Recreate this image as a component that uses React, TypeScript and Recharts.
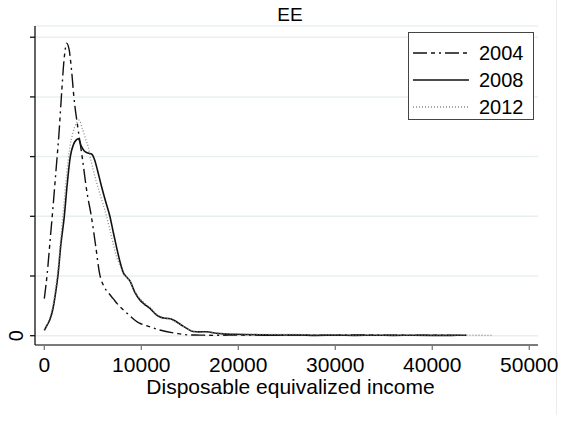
import React from 'react';
import { LineChart, Line, XAxis, YAxis, CartesianGrid } from 'recharts';

// Kernel density estimates of disposable equivalized income (density x 1e-5)
const income2004 = [0, 300, 600, 900, 1200, 1500, 1800, 2000, 2200, 2300, 2550, 2800, 3050, 3500, 3900, 4400, 4850, 5300, 5700, 6100, 6600, 7100, 7600, 8500, 9800, 10500, 11900, 13600, 15000, 16000, 17500, 19000, 21000, 23000, 25000, 27000, 30000, 33000, 36000, 39000, 42000, 43500];
const density2004 = [3.1, 5.2, 8.0, 10.8, 13.8, 16.8, 20.5, 22.8, 24.2, 24.5, 24.0, 22.3, 20.0, 17.2, 15.0, 12.0, 10.0, 7.5, 5.2, 4.2, 3.6, 3.1, 2.6, 1.9, 1.05, 0.85, 0.48, 0.2, 0.06, 0.05, 0.03, 0.05, 0.06, 0.04, 0.06, 0.04, 0.05, 0.06, 0.04, 0.05, 0.03, 0.03];

const income2008 = [0, 300, 600, 900, 1200, 1400, 1700, 2060, 2350, 2680, 3000, 3300, 3520, 3800, 4100, 4500, 4900, 5200, 5500, 5900, 6300, 6760, 7100, 7450, 7800, 8130, 8500, 8820, 9300, 9850, 10300, 10870, 11560, 12000, 12600, 13000, 13450, 14300, 14800, 15330, 16000, 16700, 17700, 18500, 19500, 20500, 22000, 24000, 26000, 28000, 30000, 32000, 34000, 36000, 38000, 40000, 42000, 43500];
const density2008 = [0.45, 0.9, 1.4, 2.3, 3.8, 5.0, 7.6, 10.0, 12.6, 15.0, 16.0, 16.4, 16.5, 15.9, 15.5, 15.3, 15.2, 14.7, 13.8, 12.5, 11.3, 10.0, 8.7, 7.4, 6.2, 5.3, 4.9, 4.6, 3.7, 3.0, 2.65, 2.3, 1.75, 1.55, 1.45, 1.42, 1.25, 0.8, 0.55, 0.35, 0.32, 0.33, 0.2, 0.15, 0.12, 0.1, 0.08, 0.05, 0.06, 0.03, 0.05, 0.03, 0.04, 0.03, 0.04, 0.03, 0.03, 0.04];

const income2012 = [0, 300, 600, 900, 1200, 1400, 1700, 2000, 2300, 2600, 2950, 3300, 3600, 3900, 4290, 4530, 4800, 5040, 5400, 5730, 6100, 6420, 6750, 7100, 7450, 7790, 8130, 8500, 8820, 9300, 9850, 10300, 10870, 11560, 12000, 12600, 13000, 13450, 14300, 14800, 15330, 16000, 16700, 17700, 18500, 20000, 22000, 24000, 26000, 28000, 30000, 32000, 34000, 36000, 38000, 40000, 42000, 44000, 46300];
const density2012 = [0.55, 1.0, 1.6, 2.6, 4.2, 5.5, 8.2, 10.8, 13.5, 15.6, 17.0, 17.8, 18.05, 17.4, 16.4, 15.8, 14.7, 13.9, 12.8, 11.9, 10.9, 10.0, 8.9, 7.7, 6.6, 5.9, 5.2, 4.9, 4.6, 3.8, 3.1, 2.75, 2.4, 1.8, 1.6, 1.45, 1.38, 1.2, 0.8, 0.55, 0.38, 0.3, 0.3, 0.22, 0.18, 0.15, 0.12, 0.1, 0.1, 0.07, 0.08, 0.05, 0.06, 0.05, 0.06, 0.04, 0.05, 0.04, 0.03];

const xTicks = [0, 10000, 20000, 30000, 40000, 50000];
const yTicks = [0, 5, 10, 15, 20, 25];

const toPoints = (xs: number[], ys: number[]) => xs.map((x, i) => ({ x, y: ys[i] }));

const series = [
  { name: '2004', data: toPoints(income2004, density2004), stroke: '#111', dash: '14 4 4 4 2 4', width: 1.4 },
  { name: '2008', data: toPoints(income2008, density2008), stroke: '#111', dash: undefined, width: 1.6 },
  { name: '2012', data: toPoints(income2012, density2012), stroke: '#8a8a8a', dash: '1 2', width: 1.3 },
];

const FONT = '"Liberation Sans", Arial, sans-serif';

// only the zero tick carries a label, written sideways
const YTick = (props: any) => {
  const { x, y, payload } = props;
  if (!payload || payload.value !== 0) return <g />;
  return (
    <text x={x} y={y} transform={`rotate(-90 ${x} ${y})`} textAnchor="middle" fontSize={20} fontFamily={FONT} fill="#000">
      0
    </text>
  );
};

const LegendBox = () => (
  <div style={{ position: 'absolute', left: 408, top: 32, width: 124, height: 86, border: '1.3px solid #444', background: '#fff', fontFamily: FONT, fontSize: 20 }}>
    {series.map((s, i) => (
      <div key={s.name} style={{ position: 'absolute', left: 4, top: 7 + i * 27, height: 26, display: 'flex', alignItems: 'center' }}>
        <svg width={56} height={4} style={{ display: 'block' }}>
          <line x1={0} y1={2} x2={56} y2={2} stroke={s.stroke} strokeWidth={s.width} strokeDasharray={s.dash} />
        </svg>
        <span style={{ marginLeft: 10, lineHeight: '26px' }}>{s.name}</span>
      </div>
    ))}
  </div>
);

export default function App() {
  return (
    <div style={{ position: 'fixed', left: 0, top: 0, width: 572, height: 428, background: '#fff', fontFamily: FONT }}>
      {/* faint frame edge on the right, kept underneath the chart */}
      <div style={{ position: 'absolute', left: 556, top: 0, width: 1, height: 415, background: '#ececec' }} />
      <div style={{ position: 'absolute', left: 250, top: 4, width: 80, textAlign: 'center', fontSize: 19, lineHeight: '22px' }}>EE</div>
      <div style={{ position: 'absolute', left: 0, top: 0 }}>
        <LineChart width={572} height={428} margin={{ top: 26, right: 34, left: 0, bottom: 0 }}>
          <CartesianGrid horizontal vertical={false} stroke="#e8eff1" strokeWidth={1.5} />
          <XAxis
            type="number"
            dataKey="x"
            domain={[-960, 50900]}
            ticks={xTicks}
            allowDataOverflow
            height={83}
            tickSize={5}
            tickMargin={7}
            axisLine={{ stroke: '#7a7a7a', strokeWidth: 2 }}
            tickLine={{ stroke: '#7a7a7a', strokeWidth: 1.3 }}
            tick={{ fontSize: 21, fill: '#000', fontFamily: FONT }}
            label={{ value: 'Disposable equivalized income', position: 'insideBottom', offset: 34, dx: 4, fontSize: 21, fill: '#000', fontFamily: FONT }}
          />
          <YAxis
            type="number"
            domain={[-0.78, 25.94]}
            ticks={yTicks}
            allowDataOverflow
            width={35}
            tickSize={5}
            tickMargin={7}
            axisLine={{ stroke: '#111', strokeWidth: 1.3 }}
            tickLine={{ stroke: '#111', strokeWidth: 1.3 }}
            tick={<YTick />}
          />
          {series.map((s) => (
            <Line
              key={s.name}
              data={s.data}
              dataKey="y"
              type="monotone"
              stroke={s.stroke}
              strokeWidth={s.width}
              strokeDasharray={s.dash}
              dot={false}
              activeDot={false}
              isAnimationActive={false}
            />
          ))}
        </LineChart>
      </div>
      <LegendBox />
    </div>
  );
}
